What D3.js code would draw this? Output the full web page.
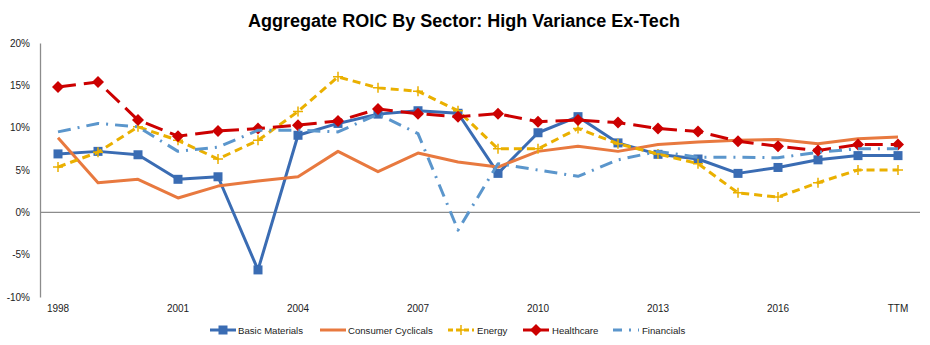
<!DOCTYPE html>
<html>
<head>
<meta charset="utf-8">
<script src="https://cdn.jsdelivr.net/npm/d3@7"></script>
<style>
  body { margin: 0; background: #fff; }
  svg { font-family: Arial, "Liberation Sans", sans-serif; }
</style>
</head>
<body>
<div id="chart"></div>
<script>
// categories
const years = ["1998","1999","2000","2001","2002","2003","2004","2005","2006","2007","2008",
  "2009","2010","2011","2012","2013","2014","2015","2016","2017","2018","TTM"];
const xTicks = ["1998","2001","2004","2007","2010","2013","2016","TTM"];
const yTicks = [-10, -5, 0, 5, 10, 15, 20];

// ROIC en %
const basicMaterials = [6.9, 7.2, 6.8, 3.9, 4.2, -6.8, 9.1, 10.5, 11.6, 12.0, 11.7,
  4.6, 9.4, 11.3, 8.2, 6.85, 6.3, 4.6, 5.3, 6.2, 6.7, 6.7];
const consumerCyclicals = [8.8, 3.5, 3.9, 1.7, 3.1, 3.7, 4.2, 7.2, 4.8, 7.0, 5.95,
  5.35, 7.2, 7.8, 7.2, 8.0, 8.3, 8.5, 8.6, 8.1, 8.7, 8.9];
const energy = [5.35, 7.1, 10.1, 8.5, 6.3, 8.5, 11.9, 16.0, 14.7, 14.3, 12.0,
  7.5, 7.5, 9.9, 8.1, 6.9, 5.75, 2.3, 1.8, 3.5, 5.0, 5.0];
const healthcare = [14.8, 15.4, 10.9, 9.0, 9.6, 9.9, 10.3, 10.8, 12.2, 11.65, 11.3,
  11.65, 10.7, 10.9, 10.6, 9.9, 9.55, 8.4, 7.8, 7.3, 8.0, 8.0];
const financials = [9.5, 10.5, 10.1, 7.2, 7.7, 9.7, 9.7, 9.5, 11.6, 9.3, -2.1,
  5.75, 5.0, 4.25, 6.2, 7.2, 6.5, 6.5, 6.45, 7.1, 7.5, 7.5];

const series = [
  { name: "Basic Materials", values: basicMaterials, color: "#3a6cb3", dash: null, legendDash: null, marker: "square" },
  { name: "Consumer Cyclicals", values: consumerCyclicals, color: "#e8793f", dash: null, legendDash: null, marker: null },
  { name: "Energy", values: energy, color: "#eab000", dash: "8,5", legendDash: "5,3", marker: "plus" },
  { name: "Healthcare", values: healthcare, color: "#cc0000", dash: "18,8", legendDash: null, marker: "diamond" },
  { name: "Financials", values: financials, color: "#5b96cc", dash: "13,7,2,7", legendDash: "9,7,2,7", marker: null }
];

const width = 930, height = 345;
const svg = d3.select("#chart").append("svg")
  .attr("width", width)
  .attr("height", height);

const x = d3.scaleBand().domain(years).range([38, 918]).padding(0);
const cx = d => x(d) + x.bandwidth() / 2;
const y = d3.scaleLinear().domain([-10, 20]).range([297, 43]);

// titre
svg.append("text")
  .attr("x", 464)
  .attr("y", 27)
  .attr("text-anchor", "middle")
  .style("font-size", "18px")
  .style("font-weight", "bold")
  .text("Aggregate ROIC By Sector: High Variance Ex-Tech");

// axe Y
const yAxis = svg.append("g")
  .attr("transform", "translate(40,0)")
  .call(d3.axisLeft(y).tickValues(yTicks).tickSize(0).tickSizeOuter(0).tickPadding(10)
    .tickFormat(d => d + "%"));
yAxis.select(".domain").attr("stroke", "#8c8c8c").attr("stroke-width", 1.3);
yAxis.selectAll("text").style("font-size", "10px").attr("fill", "#222");

// ligne du zéro
svg.append("line")
  .attr("x1", 40).attr("x2", 920)
  .attr("y1", y(0)).attr("y2", y(0))
  .attr("stroke", "#8c8c8c")
  .attr("stroke-width", 1.3);

// axe X
const xAxis = svg.append("g")
  .attr("transform", "translate(0,297)")
  .call(d3.axisBottom(x).tickValues(xTicks).tickSize(0).tickPadding(8));
xAxis.select(".domain").remove();
xAxis.selectAll("text").style("font-size", "10px").attr("fill", "#222");

const line = d3.line()
  .x((d, i) => cx(years[i]))
  .y(d => y(d));

function drawMarker(g, type, color, px, py) {
  if (type === "square") {
    g.append("rect").attr("x", px - 4.5).attr("y", py - 4.5)
      .attr("width", 9).attr("height", 9).attr("fill", color);
  } else if (type === "diamond") {
    g.append("path")
      .attr("d", `M${px},${py - 6}L${px + 6},${py}L${px},${py + 6}L${px - 6},${py}Z`)
      .attr("fill", color);
  } else if (type === "plus") {
    g.append("path")
      .attr("d", `M${px - 5},${py}H${px + 5}M${px},${py - 5}V${py + 5}`)
      .attr("stroke", color).attr("stroke-width", 1.5);
  }
}

series.forEach(s => {
  const g = svg.append("g");
  g.append("path")
    .datum(s.values)
    .attr("d", line)
    .attr("fill", "none")
    .attr("stroke", s.color)
    .attr("stroke-width", 3)
    .attr("stroke-dasharray", s.dash)
    .attr("stroke-linejoin", "round");
  if (s.marker) {
    s.values.forEach((v, i) => drawMarker(g, s.marker, s.color, cx(years[i]), y(v)));
  }
});

// légende
const legendPos = [
  { x: 210, tx: 238 },
  { x: 320, tx: 348 },
  { x: 448, tx: 477 },
  { x: 523, tx: 552 },
  { x: 613, tx: 642 }
];
const legend = svg.append("g");
series.forEach((s, i) => {
  const lx = legendPos[i].x, ly = 330;
  const lg = legend.append("g");
  lg.append("line")
    .attr("x1", lx).attr("x2", lx + 26)
    .attr("y1", ly).attr("y2", ly)
    .attr("stroke", s.color)
    .attr("stroke-width", 3)
    .attr("stroke-dasharray", s.legendDash);
  if (s.marker) drawMarker(lg, s.marker, s.color, lx + 13, ly);
  lg.append("text")
    .attr("x", legendPos[i].tx)
    .attr("y", ly + 3.5)
    .style("font-size", "9.6px")
    .attr("fill", "#222")
    .text(s.name);
});
</script>
</body>
</html>
